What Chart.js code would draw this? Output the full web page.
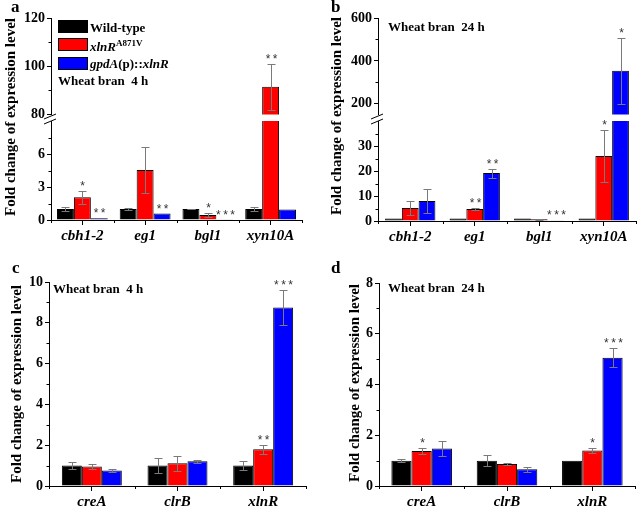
<!DOCTYPE html>
<html>
<head>
<meta charset="utf-8">
<script src="https://cdn.jsdelivr.net/npm/chart.js@4.4.1/dist/chart.umd.min.js"></script>
<style>
  body { margin: 0; width: 638px; height: 506px; background: #fff; position: relative; overflow: hidden;
         font-family: "Liberation Serif", "Times New Roman", serif; font-weight: bold; color: #000; }
  canvas { position: absolute; }
  .txt { position: absolute; white-space: pre; line-height: 1; }
  .letter { font-size: 17px; }
  .legend { font-size: 13px; }
  .legend sup { font-size: 9px; font-style: normal; vertical-align: 5px; }
  .ytitle { position: absolute; white-space: nowrap; font-size: 15px; line-height: 1;
            transform: translate(-50%, -50%) rotate(-90deg); }
  .box { position: absolute; width: 30px; height: 13px; box-sizing: border-box; border: 1px solid #000; }
</style>
</head>
<body>
<canvas id="aTop" width="310" height="125" style="left:0;top:0"></canvas>
<canvas id="aLow" width="310" height="150" style="left:0;top:100px"></canvas>
<canvas id="bTop" width="320" height="125" style="left:318px;top:0"></canvas>
<canvas id="bLow" width="320" height="150" style="left:318px;top:100px"></canvas>
<canvas id="cChart" width="320" height="256" style="left:0;top:250px"></canvas>
<canvas id="dChart" width="320" height="256" style="left:318px;top:250px"></canvas>

<div class="txt letter" style="left:11px;top:-2px">a</div>
<div class="txt letter" style="left:331px;top:-2px">b</div>
<div class="txt letter" style="left:12px;top:259px">c</div>
<div class="txt letter" style="left:331px;top:259px">d</div>

<div class="ytitle" style="left:10px;top:117px">Fold change of expression level</div>
<div class="ytitle" style="left:336px;top:116px">Fold change of expression level</div>
<div class="ytitle" style="left:16px;top:384px">Fold change of expression level</div>
<div class="ytitle" style="left:354px;top:383px">Fold change of expression level</div>

<div class="box" style="left:58px;top:20px;background:#000000"></div>
<div class="box" style="left:58px;top:38px;background:#ff0000"></div>
<div class="box" style="left:58px;top:57px;background:#0000ff"></div>
<div class="txt legend" style="left:90px;top:21px">Wild-type</div>
<div class="txt legend" style="left:90px;top:39px"><i>xlnR</i><sup>A871V</sup></div>
<div class="txt legend" style="left:90px;top:57px"><i>gpdA</i>(p)::<i>xlnR</i></div>
<div class="txt legend" style="left:58px;top:74px">Wheat bran  4 h</div>
<div class="txt legend" style="left:388px;top:20px">Wheat bran  24 h</div>
<div class="txt legend" style="left:53px;top:282px">Wheat bran  4 h</div>
<div class="txt legend" style="left:388px;top:281px">Wheat bran  24 h</div>

<script>
// Gene expression bar charts (4 panels, a/b with broken y axis)

const genesAB = ['cbh1-2', 'eg1', 'bgl1', 'xyn10A'];
const genesCD = ['creA', 'clrB', 'xlnR'];
const barColors = ['#000000', '#ff0000', '#0000ff'];

// a: wheat bran 4 h
const aWild = [1.0, 1.0, 1.0, 1.0];
const aWildErr = [0.2, 0.05, 0.02, 0.2];
const aMut = [2.07, 4.55, 0.45, 91.5];
const aMutErr = [0.6, 2.05, 0.15, 9.6];
const aOver = [0.15, 0.58, 0.03, 0.95];
const aOverErr = [0, 0, 0, 0];
const aMutSig = ['*', '', '*', '**'];
const aOverSig = ['**', '**', '***', ''];
const aTopTicks = [80, 100, 120];
const aTopMinor = [90, 110];
const aLowTicks = [0, 3, 6];
const aLowMinor = [1.5, 4.5, 7.5];

// b: wheat bran 24 h
const bWild = [1.0, 1.0, 1.0, 1.0];
const bWildErr = [0, 0, 0, 0];
const bMut = [5.2, 4.8, 0.7, 26];
const bMutErr = [2.8, 0.3, 0.1, 10.3];
const bOver = [8, 19.2, 0.3, 354];
const bOverErr = [4.9, 1.8, 0, 153];
const bMutSig = ['', '**', '', '*'];
const bOverSig = ['', '**', '***', '*'];
const bTopTicks = [200, 400, 600];
const bTopMinor = [300, 500];
const bLowTicks = [0, 10, 20, 30];
const bLowMinor = [5, 15, 25, 35];

// c: regulators, wheat bran 4 h
const cWild = [1.0, 1.0, 1.0];
const cWildErr = [0.17, 0.38, 0.24];
const cMut = [0.96, 1.11, 1.8];
const cMutErr = [0.12, 0.36, 0.21];
const cOver = [0.76, 1.21, 8.75];
const cOverErr = [0.08, 0.07, 0.85];
const cMutSig = ['', '', '**'];
const cOverSig = ['', '', '***'];
const cTicks = [0, 2, 4, 6, 8, 10];
const cMinor = [1, 3, 5, 7, 9];

// d: regulators, wheat bran 24 h
const dWild = [1.0, 1.0, 1.0];
const dWildErr = [0.05, 0.22, 0];
const dMut = [1.38, 0.87, 1.4];
const dMutErr = [0.13, 0.04, 0.11];
const dOver = [1.48, 0.66, 5.05];
const dOverErr = [0.29, 0.09, 0.38];
const dMutSig = ['*', '', '*'];
const dOverSig = ['', '', '***'];
const dTicks = [0, 2, 4, 6, 8];
const dMinor = [1, 3, 5, 7];

const serif = 'Liberation Serif';

// error bars + significance stars
const errorBarPlugin = {
  id: 'errorBars',
  afterDatasetsDraw(chart) {
    const { ctx, chartArea } = chart;
    const y = chart.scales.y;
    chart.data.datasets.forEach((ds, i) => {
      const meta = chart.getDatasetMeta(i);
      meta.data.forEach((bar, j) => {
        const v = ds.data[j];
        const e = ds.errors[j];
        const x = Math.round(bar.x) + 0.5;
        if (e > 0) {
          ctx.save();
          ctx.beginPath();
          ctx.rect(chartArea.left, chartArea.top, chartArea.right - chartArea.left, chartArea.bottom - chartArea.top);
          ctx.clip();
          const yt = Math.round(y.getPixelForValue(v + e)) + 0.5;
          const yb = Math.round(y.getPixelForValue(v - e)) + 0.5;
          ctx.strokeStyle = '#7a7a7a';
          ctx.lineWidth = 1;
          ctx.beginPath();
          ctx.moveTo(x, yt); ctx.lineTo(x, yb);
          ctx.moveTo(x - 4, yt); ctx.lineTo(x + 4, yt);
          ctx.moveTo(x - 4, yb); ctx.lineTo(x + 4, yb);
          ctx.stroke();
          ctx.restore();
        }
        const top = v + e;
        if (ds.stars[j] && top >= y.min && top <= y.max) {
          ctx.save();
          ctx.fillStyle = '#333';
          ctx.font = '12px "Liberation Sans"';
          ctx.textAlign = 'center';
          ctx.textBaseline = 'alphabetic';
          ctx.fillText(ds.stars[j].split('').join('\u2009'), x, y.getPixelForValue(top) - 1);
          ctx.restore();
        }
      });
    });
  }
};

// minor ticks and the // axis break
const minorTickPlugin = {
  id: 'minorTicks',
  afterDraw(chart, args, opts) {
    const { ctx, chartArea } = chart;
    const y = chart.scales.y;
    ctx.save();
    ctx.strokeStyle = '#000';
    ctx.lineWidth = 1;
    ctx.beginPath();
    opts.yMinor.forEach(v => {
      const p = Math.round(y.getPixelForValue(v)) + 0.5;
      ctx.moveTo(chartArea.left - 2.5, p);
      ctx.lineTo(chartArea.left, p);
    });
    if (opts.showX) {
      const n = chart.data.labels.length;
      const w = (chartArea.right - chartArea.left) / n;
      for (let k = 0; k <= n; k++) {
        const px = Math.round(chartArea.left + k * w) + 0.5;
        ctx.moveTo(px, chartArea.bottom);
        ctx.lineTo(px, chartArea.bottom + 3);
      }
    }
    ctx.stroke();
    if (opts.breakMark) {
      const l = chartArea.left;
      const t = chartArea.top;
      ctx.beginPath();
      ctx.moveTo(l - 7, t - 2); ctx.lineTo(l + 5, t - 7);
      ctx.moveTo(l - 7, t + 3); ctx.lineTo(l + 5, t - 2);
      ctx.stroke();
    }
    ctx.restore();
  }
};

function makeChart(id, cfg) {
  const values = [cfg.wild, cfg.mut, cfg.over];
  const errors = [cfg.wildErr, cfg.mutErr, cfg.overErr];
  const stars = [cfg.labels.map(() => ''), cfg.mutSig, cfg.overSig];

  return new Chart(document.getElementById(id), {
    type: 'bar',
    data: {
      labels: cfg.labels,
      datasets: values.map((vals, i) => ({
        data: vals,
        errors: errors[i],
        stars: stars[i],
        backgroundColor: barColors[i],
        borderColor: '#000',
        borderWidth: 1,
        barPercentage: 1,
        categoryPercentage: cfg.catPct,
        clip: 0
      }))
    },
    options: {
      responsive: false,
      animation: false,
      devicePixelRatio: 1,
      layout: { padding: cfg.padding },
      plugins: {
        legend: { display: false },
        tooltip: { enabled: false },
        minorTicks: { yMinor: cfg.minor, showX: cfg.showX, breakMark: cfg.breakMark }
      },
      scales: {
        x: {
          display: cfg.showX,
          offset: true,
          grid: { offset: false, drawOnChartArea: false, tickLength: 5, color: '#000' },
          border: { color: '#000', width: 1 },
          ticks: {
            color: '#000', padding: 2, autoSkip: false, maxRotation: 0,
            font: { family: serif, size: 15, weight: 'bold', style: 'italic' }
          },
          afterFit: s => { s.height = cfg.xHeight; }
        },
        y: {
          min: cfg.min,
          max: cfg.max,
          afterBuildTicks: s => { s.ticks = cfg.ticks.map(v => ({ value: v })); },
          grid: { drawOnChartArea: false, tickLength: 4, color: '#000' },
          border: { color: '#000', width: 1 },
          ticks: { color: '#000', padding: 2, font: { family: serif, size: 14, weight: 'bold' } },
          afterFit: s => { s.width = cfg.yWidth; }
        }
      }
    },
    plugins: [errorBarPlugin, minorTickPlugin]
  });
}

// 1. Panel a (broken axis: two stacked charts)
const aBase = { labels: genesAB, wild: aWild, wildErr: aWildErr, mut: aMut, mutErr: aMutErr,
  over: aOver, overErr: aOverErr, mutSig: aMutSig, overSig: aOverSig, catPct: 0.81, yWidth: 51 };
makeChart('aTop', Object.assign({}, aBase, {
  min: 80, max: 120, ticks: aTopTicks, minor: aTopMinor, showX: false, breakMark: false,
  xHeight: 0, padding: { top: 18, right: 8, bottom: 8, left: 0 }
}));
makeChart('aLow', Object.assign({}, aBase, {
  min: 0, max: 9, ticks: aLowTicks, minor: aLowMinor, showX: true, breakMark: true,
  xHeight: 30, padding: { top: 21, right: 8, bottom: 0, left: 0 }
}));

// 2. Panel b
const bBase = { labels: genesAB, wild: bWild, wildErr: bWildErr, mut: bMut, mutErr: bMutErr,
  over: bOver, overErr: bOverErr, mutSig: bMutSig, overSig: bOverSig, catPct: 0.78, yWidth: 60 };
makeChart('bTop', Object.assign({}, bBase, {
  min: 150, max: 600, ticks: bTopTicks, minor: bTopMinor, showX: false, breakMark: false,
  xHeight: 0, padding: { top: 18, right: 2, bottom: 8, left: 0 }
}));
makeChart('bLow', Object.assign({}, bBase, {
  min: 0, max: 40, ticks: bLowTicks, minor: bLowMinor, showX: true, breakMark: true,
  xHeight: 29, padding: { top: 21, right: 2, bottom: 0, left: 0 }
}));

// 3. Panels c and d
makeChart('cChart', {
  labels: genesCD, wild: cWild, wildErr: cWildErr, mut: cMut, mutErr: cMutErr,
  over: cOver, overErr: cOverErr, mutSig: cMutSig, overSig: cOverSig, catPct: 0.7, yWidth: 49,
  min: 0, max: 10, ticks: cTicks, minor: cMinor, showX: true, breakMark: false,
  xHeight: 20, padding: { top: 32, right: 14, bottom: 0, left: 0 }
});
makeChart('dChart', {
  labels: genesCD, wild: dWild, wildErr: dWildErr, mut: dMut, mutErr: dMutErr,
  over: dOver, overErr: dOverErr, mutSig: dMutSig, overSig: dOverSig, catPct: 0.71, yWidth: 61,
  min: 0, max: 8, ticks: dTicks, minor: dMinor, showX: true, breakMark: false,
  xHeight: 20, padding: { top: 33, right: 3, bottom: 0, left: 0 }
});
</script>
</body>
</html>
